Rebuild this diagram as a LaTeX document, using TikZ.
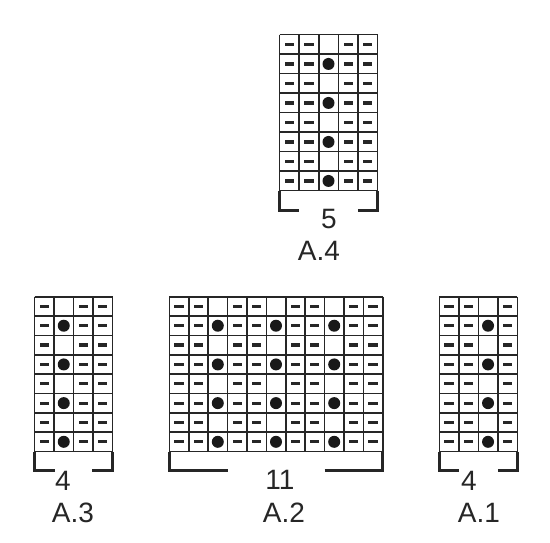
\documentclass[tikz,border=0pt]{standalone}
\usepackage{fontspec}
\setmainfont{Liberation Sans}
\usepackage{tikz}

\begin{document}
\begin{tikzpicture}[x=1pt,y=-1pt,
  gridline/.style={line width=1.6pt,draw=black!85},
  bracket/.style={line width=2.8pt,draw=black!85},
  purl/.style={fill=black!85},
  knot/.style={fill=black!90},
  chartlabel/.style={anchor=base,font=\fontsize{28}{30}\selectfont,text=black!85}]
  \useasboundingbox (0,0) rectangle (550,543);

  % A.4
  \begin{scope}[shift={(279.5,34.7)},x=19.6pt,y=-19.5pt]
    \foreach \i in {0,...,5} \draw[gridline] (\i,0) -- (\i,8);
    \foreach \j in {0,...,8} \draw[gridline] (0,\j) -- (5,\j);
    \foreach \j in {0,...,7} {
      \foreach \i in {0,1,3,4} \fill[purl] (\i+0.5,\j+0.5) +(-4.6pt,-1.6pt) rectangle +(4.6pt,1.6pt);
    }
    \foreach \j in {1,3,5,7} \fill[knot] (2.5,\j+0.5) circle (6pt);
    \draw[bracket] (0,8) -- (0,9.03) -- (1,9.03);
    \draw[bracket] (4,9.03) -- (5,9.03) -- (5,8);
  \end{scope}
  \node[chartlabel] (num4) at (329,228.5) {5};
  \node[chartlabel] (name4) at (319,260) {A.4};

  % A.3
  \begin{scope}[shift={(34.5,296.7)},x=19.5pt,y=-19.35pt]
    \foreach \i in {0,...,4} \draw[gridline] (\i,0) -- (\i,8);
    \foreach \j in {0,...,8} \draw[gridline] (0,\j) -- (4,\j);
    \foreach \j in {0,...,7} {
      \foreach \i in {0,2,3} \fill[purl] (\i+0.5,\j+0.5) +(-4.6pt,-1.6pt) rectangle +(4.6pt,1.6pt);
    }
    \foreach \j in {1,3,5,7} \fill[knot] (1.5,\j+0.5) circle (6pt);
    \draw[bracket] (0,8) -- (0,9) -- (1.05,9);
    \draw[bracket] (2.95,9) -- (4,9) -- (4,8);
  \end{scope}
  \node[chartlabel] (num3) at (63,490) {4};
  \node[chartlabel] (name3) at (73,522.5) {A.3};

  % A.2
  \begin{scope}[shift={(169.3,296.7)},x=19.4pt,y=-19.35pt]
    \foreach \i in {0,...,11} \draw[gridline] (\i,0) -- (\i,8);
    \foreach \j in {0,...,8} \draw[gridline] (0,\j) -- (11,\j);
    \foreach \j in {0,...,7} {
      \foreach \i in {0,1,3,4,6,7,9,10} \fill[purl] (\i+0.5,\j+0.5) +(-4.6pt,-1.6pt) rectangle +(4.6pt,1.6pt);
    }
    \foreach \j in {1,3,5,7} {
      \foreach \i in {2,5,8} \fill[knot] (\i+0.5,\j+0.5) circle (6pt);
    }
    \draw[bracket] (0,8) -- (0,9) -- (3,9);
    \draw[bracket] (8,9) -- (11,9) -- (11,8);
  \end{scope}
  \node[chartlabel] (num2) at (280,489) {11};
  \node[chartlabel] (name2) at (284,522.5) {A.2};

  % A.1
  \begin{scope}[shift={(439.3,296.7)},x=19.5pt,y=-19.35pt]
    \foreach \i in {0,...,4} \draw[gridline] (\i,0) -- (\i,8);
    \foreach \j in {0,...,8} \draw[gridline] (0,\j) -- (4,\j);
    \foreach \j in {0,...,7} {
      \foreach \i in {0,1,3} \fill[purl] (\i+0.5,\j+0.5) +(-4.6pt,-1.6pt) rectangle +(4.6pt,1.6pt);
    }
    \foreach \j in {1,3,5,7} \fill[knot] (2.5,\j+0.5) circle (6pt);
    \draw[bracket] (0,8) -- (0,9) -- (1,9);
    \draw[bracket] (3,9) -- (4,9) -- (4,8);
  \end{scope}
  \node[chartlabel] (num1) at (469,490) {4};
  \node[chartlabel] (name1) at (479,522.5) {A.1};
\end{tikzpicture}
\end{document}
